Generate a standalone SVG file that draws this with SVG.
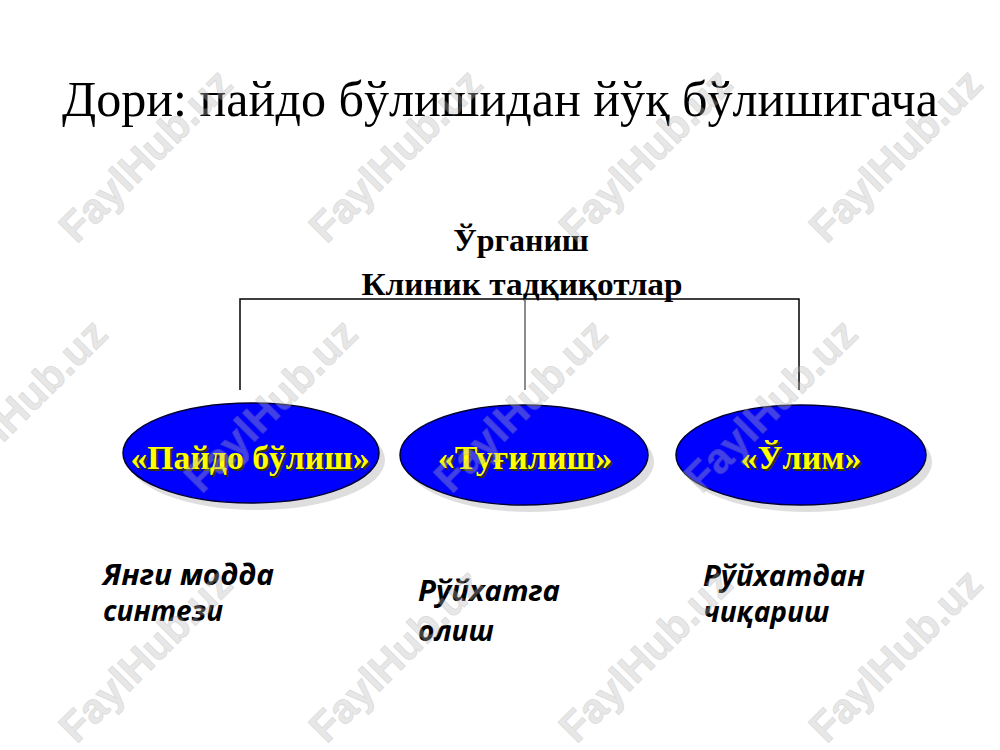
<svg xmlns="http://www.w3.org/2000/svg" width="1000" height="750" viewBox="0 0 1000 750">
<defs>
<style>
.title{font-family:"Liberation Serif","Times New Roman",serif;font-size:50px;fill:#000}
.head{font-family:"Liberation Serif","Times New Roman",serif;font-size:32px;font-weight:bold;fill:#000}
.ell{fill:#0000ff;stroke:#000033;stroke-width:1.5}
.shd{fill:#c8c8c8;opacity:0.6}
.lbl{font-family:"Liberation Serif","Times New Roman",serif;font-size:34px;font-weight:bold;fill:#ffff00}
.lbls{font-family:"Liberation Serif","Times New Roman",serif;font-size:34px;font-weight:bold;fill:#333300}
.note{font-family:"Open Sans","Noto Sans",sans-serif;font-size:28px;font-weight:bold;font-style:italic;fill:#000}
.conn{stroke:#000;stroke-width:1.5;fill:none}
.wm{font-family:"Liberation Sans",Arial,sans-serif;font-size:42px;font-weight:bold;fill:#bbbbbb;stroke:#999;stroke-width:0.8;opacity:0.35}
</style>
</defs>
<rect width="1000" height="750" fill="#fff"/>
<g id="title"><text class="title" x="500" y="116" text-anchor="middle" textLength="876" lengthAdjust="spacingAndGlyphs">Дори: пайдо бўлишидан йўқ бўлишигача</text></g>
<g id="root">
<text class="head" x="521" y="251" text-anchor="middle">Ўрганиш</text>
<text class="head" x="522" y="295" text-anchor="middle" textLength="321" lengthAdjust="spacingAndGlyphs">Клиник тадқиқотлар</text>
</g>
<g id="connectors">
<path class="conn" d="M240 390 V299 H799 V390"/>
<path d="M525 299 V390" stroke="#666" stroke-width="1.5"/>
</g>
<g id="node1">
<ellipse class="shd" cx="257" cy="460" rx="128" ry="50"/>
<ellipse class="ell" cx="251" cy="453" rx="128" ry="50"/>
<text class="lbls" x="252" y="471" text-anchor="middle" textLength="239" lengthAdjust="spacingAndGlyphs">«Пайдо бўлиш»</text>
<text class="lbl" x="250" y="469" text-anchor="middle" textLength="239" lengthAdjust="spacingAndGlyphs">«Пайдо бўлиш»</text>
</g>
<g id="node2">
<ellipse class="shd" cx="530" cy="462" rx="124" ry="50"/>
<ellipse class="ell" cx="524" cy="455" rx="124" ry="50"/>
<text class="lbls" x="527" y="471" text-anchor="middle">«Туғилиш»</text>
<text class="lbl" x="525" y="469" text-anchor="middle">«Туғилиш»</text>
</g>
<g id="node3">
<ellipse class="shd" cx="807" cy="462" rx="125" ry="50"/>
<ellipse class="ell" cx="801" cy="455" rx="125" ry="50"/>
<text class="lbls" x="803" y="471" text-anchor="middle">«Ўлим»</text>
<text class="lbl" x="801" y="469" text-anchor="middle">«Ўлим»</text>
</g>
<g id="note1">
<text class="note" x="103" y="585" textLength="171" lengthAdjust="spacingAndGlyphs">Янги модда</text>
<text class="note" x="103" y="621">синтези</text>
</g>
<g id="note2">
<text class="note" x="418" y="601" textLength="142" lengthAdjust="spacingAndGlyphs">Рўйхатга</text>
<text class="note" x="418" y="641">олиш</text>
</g>
<g id="note3">
<text class="note" x="703" y="586" textLength="162" lengthAdjust="spacingAndGlyphs">Рўйхатдан</text>
<text class="note" x="703" y="622">чиқариш</text>
</g>
<g id="watermarks">
<text class="wm" transform="translate(145,155) rotate(-45)" text-anchor="middle" dy="15">FaylHub.uz</text>
<text class="wm" transform="translate(395,155) rotate(-45)" text-anchor="middle" dy="15">FaylHub.uz</text>
<text class="wm" transform="translate(645,155) rotate(-45)" text-anchor="middle" dy="15">FaylHub.uz</text>
<text class="wm" transform="translate(895,155) rotate(-45)" text-anchor="middle" dy="15">FaylHub.uz</text>
<text class="wm" transform="translate(20,405) rotate(-45)" text-anchor="middle" dy="15">FaylHub.uz</text>
<text class="wm" transform="translate(270,405) rotate(-45)" text-anchor="middle" dy="15">FaylHub.uz</text>
<text class="wm" transform="translate(520,405) rotate(-45)" text-anchor="middle" dy="15">FaylHub.uz</text>
<text class="wm" transform="translate(770,405) rotate(-45)" text-anchor="middle" dy="15">FaylHub.uz</text>
<text class="wm" transform="translate(145,655) rotate(-45)" text-anchor="middle" dy="15">FaylHub.uz</text>
<text class="wm" transform="translate(395,655) rotate(-45)" text-anchor="middle" dy="15">FaylHub.uz</text>
<text class="wm" transform="translate(645,655) rotate(-45)" text-anchor="middle" dy="15">FaylHub.uz</text>
<text class="wm" transform="translate(895,655) rotate(-45)" text-anchor="middle" dy="15">FaylHub.uz</text>
</g>
</svg>
